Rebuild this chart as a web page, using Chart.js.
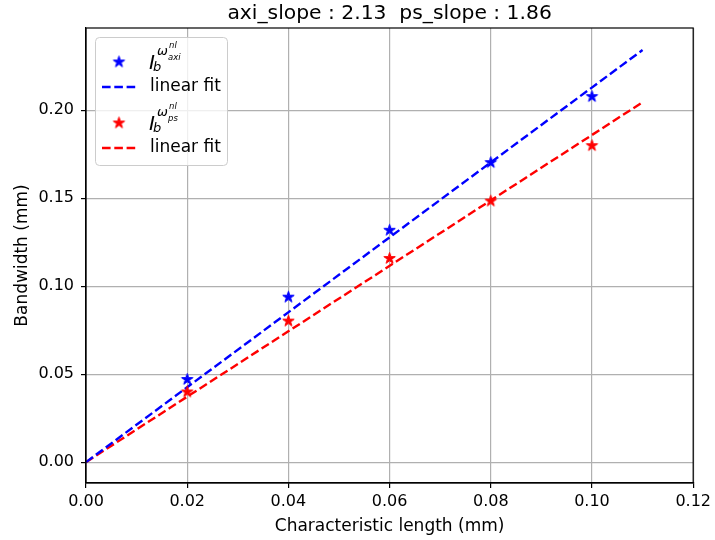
<!DOCTYPE html>
<html><head><meta charset="utf-8">
<script src="https://cdn.jsdelivr.net/npm/chart.js@4.4.0/dist/chart.umd.min.js"></script>
<style>html,body{margin:0;padding:0;background:#fff}#wrap{position:relative;width:715px;height:540px}</style>
</head><body><div id="wrap"><canvas id="c" width="715" height="540"></canvas></div>
<script>
const titleText = 'axi_slope : 2.13  ps_slope : 1.86';
const xLabel = 'Characteristic length (mm)';
const yLabel = 'Bandwidth (mm)';
const xVals = [0.02, 0.04, 0.06, 0.08, 0.10];
const axiVals = [0.0470, 0.0938, 0.1318, 0.1703, 0.2078];
const psVals = [0.0399, 0.0802, 0.1158, 0.1484, 0.1799];
const fitX = [0, 0.11];
const axiFit = [0, 0.2343];
const psFit = [0, 0.2046];
const xTicks = [0, 0.02, 0.04, 0.06, 0.08, 0.10, 0.12];
const yTicks = [0, 0.05, 0.10, 0.15, 0.20];
const xRange = [0, 0.12];
const yRange = [-0.01185, 0.2468];
const legendLabels = [
  {base:'I', sub:'b', sup:'ω', supSub:'axi', supSup:'nl'},
  'linear fit',
  {base:'I', sub:'b', sup:'ω', supSub:'ps', supSup:'nl'},
  'linear fit'
];

const FONT = '"DejaVu Sans", sans-serif';

function starImg(color){
  const c = document.createElement('canvas'); c.width = 15; c.height = 15;
  const g = c.getContext('2d');
  const R = 6, r = R*0.381966, cx = 7.5, cy = 7.5;
  g.beginPath();
  for (let i=0;i<10;i++){
    const a = -Math.PI/2 + i*Math.PI/5; const rr = i%2 ? r : R;
    g.lineTo(cx + rr*Math.cos(a), cy + rr*Math.sin(a));
  }
  g.closePath(); g.fillStyle = color; g.fill();
  g.strokeStyle = color; g.lineWidth = 1; g.lineJoin = 'miter'; g.stroke();
  return c;
}
const starBlue = starImg('#0000ff');
const starRed = starImg('#ff0000');

const pts = (xs, ys) => xs.map((x,i)=>({x:x, y:ys[i]}));

const framePlugin = {
  id:'frame',
  afterDatasetsDraw(chart){
    const {ctx, chartArea:a} = chart;
    ctx.save(); ctx.strokeStyle = '#000'; ctx.lineWidth = 1.2;
    ctx.strokeRect(a.left, a.top, a.right-a.left, a.bottom-a.top);
    ctx.restore();
  }
};

const titlePlugin = {
  id:'ptitle',
  afterDraw(chart){
    const {ctx, chartArea:a} = chart;
    ctx.save();
    ctx.fillStyle = '#000'; ctx.font = '20.3px ' + FONT;
    ctx.textAlign = 'center'; ctx.textBaseline = 'alphabetic';
    ctx.fillText(titleText, (a.left + a.right)/2, 19);
    ctx.restore();
  }
};

function drawMathLabel(ctx, lab, x, y){
  ctx.fillStyle = '#000'; ctx.textBaseline = 'alphabetic'; ctx.textAlign = 'left';
  ctx.font = 'italic 20px ' + FONT; ctx.fillText(lab.base, x, y);
  ctx.font = 'italic 13px ' + FONT; ctx.fillText(lab.sub, x + 4, y + 2);
  ctx.font = 'italic 13px ' + FONT; ctx.fillText(lab.sup, x + 8, y - 14);
  ctx.font = 'italic 8.5px ' + FONT; ctx.fillText(lab.supSub, x + 19, y - 9);
  ctx.font = 'italic 8.5px ' + FONT; ctx.fillText(lab.supSup, x + 20, y - 21);
}

const legendPlugin = {
  id:'mlegend',
  afterDraw(chart){
    const ctx = chart.ctx;
    ctx.save();
    const bx = 95.5, by = 37.5, bw = 132, bh = 128, rr = 4;
    ctx.beginPath();
    ctx.moveTo(bx+rr, by); ctx.lineTo(bx+bw-rr, by); ctx.quadraticCurveTo(bx+bw, by, bx+bw, by+rr);
    ctx.lineTo(bx+bw, by+bh-rr); ctx.quadraticCurveTo(bx+bw, by+bh, bx+bw-rr, by+bh);
    ctx.lineTo(bx+rr, by+bh); ctx.quadraticCurveTo(bx, by+bh, bx, by+bh-rr);
    ctx.lineTo(bx, by+rr); ctx.quadraticCurveTo(bx, by, bx+rr, by); ctx.closePath();
    ctx.fillStyle = 'rgba(255,255,255,0.8)'; ctx.fill();
    ctx.strokeStyle = '#cccccc'; ctx.lineWidth = 1; ctx.stroke();

    const rows = [62, 87, 123, 148];
    const colors = ['#0000ff','#0000ff','#ff0000','#ff0000'];
    rows.forEach((ry, i) => {
      if (i % 2 === 0) {
        const img = i === 0 ? starBlue : starRed;
        ctx.drawImage(img, 119 - 7.5, ry - 7.5);
        drawMathLabel(ctx, legendLabels[i], 149, ry + 7);
      } else {
        ctx.beginPath(); ctx.setLineDash([8.6, 3.7]);
        ctx.strokeStyle = colors[i]; ctx.lineWidth = 2.4;
        ctx.moveTo(102, ry); ctx.lineTo(137, ry); ctx.stroke(); ctx.setLineDash([]);
        ctx.fillStyle = '#000'; ctx.font = '17px ' + FONT; ctx.textBaseline = 'middle'; ctx.textAlign = 'left';
        ctx.fillText(legendLabels[i], 150, ry);
      }
    });
    ctx.restore();
  }
};

const tickFont = {family: FONT, size: 16};
const labFont = {family: FONT, size: 17};

new Chart(document.getElementById('c').getContext('2d'), {
  type: 'scatter',
  data: { datasets: [
    {label:'axi', data: pts(xVals, axiVals), pointStyle: starBlue, pointRadius: 6, showLine: false, borderColor:'#0000ff', backgroundColor:'#0000ff'},
    {label:'ps', data: pts(xVals, psVals), pointStyle: starRed, pointRadius: 6, showLine: false, borderColor:'#ff0000', backgroundColor:'#ff0000'},
    {label:'axi fit', data: pts(fitX, axiFit), showLine: true, pointRadius: 0, borderColor:'#0000ff', borderWidth: 2.4, borderDash:[8.6,3.7], fill:false},
    {label:'ps fit', data: pts(fitX, psFit), showLine: true, pointRadius: 0, borderColor:'#ff0000', borderWidth: 2.4, borderDash:[8.6,3.7], fill:false}
  ]},
  options: {
    responsive: false, animation: false, events: [],
    layout: {padding: {left: 0, right: 19, top: 28, bottom: 0}},
    plugins: {
      legend: {display: false}, tooltip: {enabled: false}, title: {display: false}
    },
    scales: {
      x: {
        type: 'linear', min: xRange[0], max: xRange[1],
        afterBuildTicks: s => { s.ticks = xTicks.map(v => ({value: v})); },
        afterFit: s => { s.height = 57; },
        ticks: {callback: v => Number(v).toFixed(2), font: tickFont, color: '#000', padding: 4, maxRotation: 0, autoSkip: false},
        grid: {color: '#b0b0b0', lineWidth: 1.2, tickColor: '#000', tickLength: 5, tickWidth: 1.2},
        border: {color: '#000', width: 1.2},
        title: {display: true, text: xLabel, color: '#000', font: labFont, padding: {top: 0, bottom: 3}}
      },
      y: {
        type: 'linear', min: yRange[0], max: yRange[1],
        afterBuildTicks: s => { s.ticks = yTicks.map(v => ({value: v})); },
        afterFit: s => { s.width = 86; },
        ticks: {callback: v => Number(v).toFixed(2), font: tickFont, color: '#000', padding: 7, autoSkip: false},
        grid: {color: '#b0b0b0', lineWidth: 1.2, tickColor: '#000', tickLength: 5, tickWidth: 1.2},
        border: {color: '#000', width: 1.2},
        title: {display: true, text: yLabel, color: '#000', font: labFont, padding: {top: 12, bottom: 0}}
      }
    }
  },
  plugins: [framePlugin, titlePlugin, legendPlugin]
});
</script></body></html>
